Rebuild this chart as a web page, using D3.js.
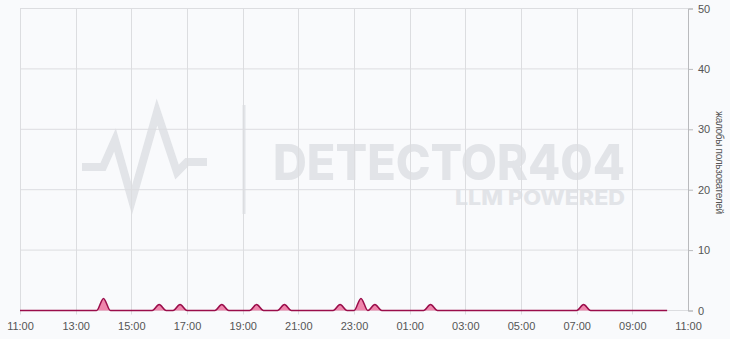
<!DOCTYPE html>
<html>
<head>
<meta charset="utf-8">
<script src="https://cdn.jsdelivr.net/npm/d3@7"></script>
<style>
	body { margin: 0; background: #f9fafc; }
	svg { display: block; }
	.tick text { font-family: "Liberation Sans", Arial, sans-serif; font-size: 11px; fill: #555; }
</style>
</head>
<body>
<div id="chart"></div>
<script>

const width = 730, height = 339;

// DONNEES : pics de signalements (tranches de 15 min), le reste vaut 0
const startTime = "2024-01-01 11:00";
const endTime = "2024-01-02 10:15";
const spikeTimes = ["2024-01-01 14:00", "2024-01-01 16:00", "2024-01-01 16:45", "2024-01-01 18:15",
	"2024-01-01 19:30", "2024-01-01 20:30", "2024-01-01 22:30", "2024-01-01 23:15",
	"2024-01-01 23:45", "2024-01-02 01:45", "2024-01-02 07:15"];
const spikeValues = [2, 1, 1, 1, 1, 1, 1, 2, 1, 1, 1];
const xTicks = ["2024-01-01 11:00", "2024-01-01 13:00", "2024-01-01 15:00", "2024-01-01 17:00",
	"2024-01-01 19:00", "2024-01-01 21:00", "2024-01-01 23:00", "2024-01-02 01:00",
	"2024-01-02 03:00", "2024-01-02 05:00", "2024-01-02 07:00", "2024-01-02 09:00", "2024-01-02 11:00"];
const yTicks = [0, 10, 20, 30, 40, 50];
const yLabel = "жалобы пользователей";

const parse = d3.timeParse("%Y-%m-%d %H:%M");

// serie complete, zeros partout sauf les pics
let spikes = new Map(spikeTimes.map((t, i) => [+parse(t), spikeValues[i]]));
let serie = d3.timeMinute.every(15).range(parse(startTime), d3.timeMinute.offset(parse(endTime), 1))
	.map(d => ({ date: d, value: spikes.get(+d) || 0 }));
let tickDates = xTicks.map(parse);

const margin = { left: 20, right: 42, top: 8.5, bottom: 28.5 };

let svg = d3.select("#chart")
	.append("svg")
	.attr("width", width)
	.attr("height", height);

let x = d3.scaleTime()
	.domain([tickDates[0], tickDates[tickDates.length - 1]])
	.range([margin.left, width - margin.right]);

let y = d3.scaleLinear()
	.domain([0, 50])
	.range([height - margin.bottom, margin.top]);

// FILIGRANE
let wm = svg.append("g").attr("fill", "#e2e4e8").attr("stroke", "#e2e4e8");

wm.append("path")
	.attr("d", "M82,167 L103,167 L115,140 L132,200 L157,112 L177,172 L187,162 L207,162")
	.attr("fill", "none")
	.attr("stroke-width", 8)
	.attr("stroke-linejoin", "miter");

wm.append("rect")
	.attr("x", 242.5).attr("y", 105)
	.attr("width", 3).attr("height", 109)
	.attr("stroke", "none");

// un seul <text> avec deux tspan
let wmText = wm.append("text")
	.attr("stroke", "none")
	.style("font-family", "Inter, Lato, sans-serif")
	.style("font-weight", 800);

wmText.append("tspan")
	.attr("x", 273).attr("y", 180)
	.attr("textLength", 352)
	.attr("lengthAdjust", "spacingAndGlyphs")
	.style("font-size", "50px")
	.text("DETECTOR404");

wmText.append("tspan")
	.attr("x", 455).attr("y", 205)
	.attr("textLength", 170)
	.attr("lengthAdjust", "spacingAndGlyphs")
	.style("font-size", "20px")
	.text("LLM POWERED");

// GRILLE
let grid = svg.append("g").attr("stroke", "#dcdde0").attr("stroke-width", 1);

grid.selectAll(".gx")
	.data(tickDates.slice(0, -1))
	.enter()
	.append("line")
	.attr("x1", d => Math.round(x(d)) + 0.5)
	.attr("x2", d => Math.round(x(d)) + 0.5)
	.attr("y1", y(50))
	.attr("y2", y(0) + 4);

grid.selectAll(".gy")
	.data(yTicks)
	.enter()
	.append("line")
	.attr("x1", x.range()[0])
	.attr("x2", x.range()[1])
	.attr("y1", d => y(d))
	.attr("y2", d => y(d));

// COURBE
let area = d3.area()
	.x(d => x(d.date))
	.y0(y(0))
	.y1(d => y(d.value))
	.curve(d3.curveMonotoneX);

let line = d3.line()
	.x(d => x(d.date))
	.y(d => y(d.value))
	.curve(d3.curveMonotoneX);

svg.append("path")
	.datum(serie)
	.attr("d", area)
	.style("fill", "#ef86ac");

svg.append("path")
	.datum(serie)
	.attr("d", line)
	.style("fill", "none")
	.style("stroke", "#9a0d4a")
	.style("stroke-width", 1.5);

// AXES
let axisX = svg.append("g")
	.attr("transform", `translate(0,${y(0)})`)
	.call(d3.axisBottom(x).tickValues(tickDates).tickFormat(d3.timeFormat("%H:%M")).tickSize(0).tickPadding(12));
axisX.select(".domain").remove();

let axisY = svg.append("g")
	.attr("transform", `translate(${x.range()[1]},0)`)
	.call(d3.axisRight(y).tickValues(yTicks).tickSize(5).tickPadding(5));
axisY.select(".domain").attr("stroke", "#b9babd");
axisY.selectAll(".tick line").attr("stroke", "#b9babd");

svg.append("text")
	.attr("transform", `translate(716,${(y(0) + y(50)) / 2 + 3}) rotate(90)`)
	.attr("text-anchor", "middle")
	.style("font-family", "\"Liberation Sans\", Arial, sans-serif")
	.style("font-size", "10px")
	.style("letter-spacing", "-0.3px")
	.style("fill", "#555")
	.text(yLabel);

</script>
</body>
</html>
